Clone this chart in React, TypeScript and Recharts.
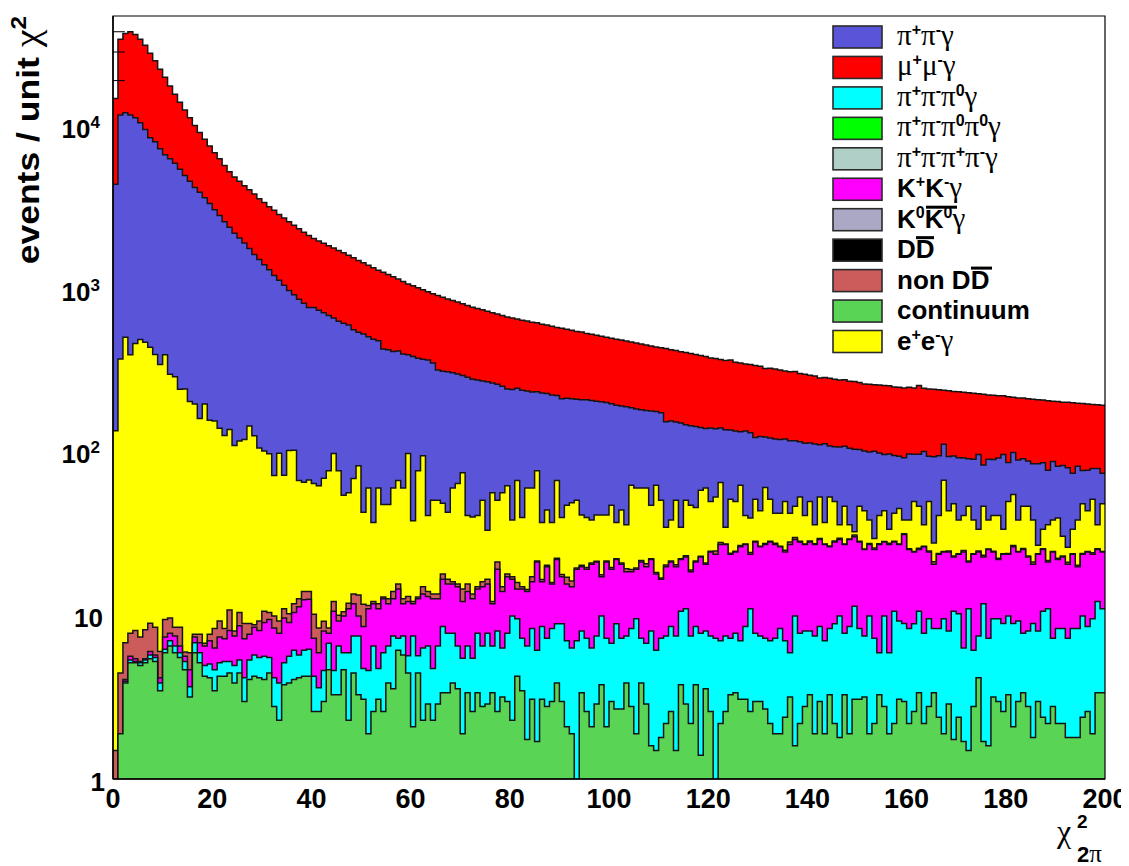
import React from 'react';
import { ComposedChart, Area, XAxis, YAxis, ReferenceArea, ReferenceLine, Legend } from 'recharts';

// ---- categories: lower edges of the 1-unit chi2 bins ----
const binLowEdges: number[] = Array.from({ length: 200 }, (_, i) => i);
const xTicks = [0, 20, 40, 60, 80, 100, 120, 140, 160, 180, 200];
const yTicks = [1, 10, 100, 1000, 10000];
const yMinorTicks = [20000, 30000, 40000];

// ---- series (events per bin), stacked bottom -> top ----
const continuum = [
  0, 1.9, 3.9, 5.2, 5.2, 5.0, 5.2, 5.5, 5.3, 3.5,
  6.0, 6.6, 6.0, 5.6, 4.7, 3.2, 6.0, 5.2, 4.3, 4.2,
  3.5, 4.3, 4.3, 4.5, 3.9, 4.5, 3.0, 4.1, 4.3, 4.2,
  4.1, 4.5, 2.8, 2.3, 3.8, 3.9, 4.1, 4.2, 4.3, 4.3,
  2.6, 2.6, 3.0, 4.7, 3.3, 3.3, 4.7, 2.3, 4.5, 3.3,
  3.1, 1.9, 2.6, 3.1, 2.6, 3.9, 3.6, 6.2, 5.8, 4.5,
  2.1, 4.5, 2.3, 2.9, 2.3, 2.9, 3.4, 3.4, 3.9, 3.6,
  1.9, 3.4, 2.6, 3.4, 2.8, 2.9, 3.4, 2.6, 3.2, 3.0,
  2.3, 4.3, 3.5, 1.75, 3.1, 1.7, 3.1, 2.8, 3.0, 3.9,
  3.0, 2.1, 1.9, 0, 3.4, 2.6, 2.1, 2.9, 3.8, 2.1,
  3.0, 2.7, 2.7, 3.9, 2.8, 1.9, 3.9, 2.9, 1.6, 1.5,
  1.8, 2.2, 2.6, 1.5, 3.8, 2.9, 2.2, 3.8, 1.4, 3.6,
  2.6, 0, 2.2, 2.6, 3.3, 3.4, 3.1, 3.1, 2.6, 3.0,
  3.0, 2.7, 2.2, 1.9, 1.9, 2.4, 3.2, 1.6, 2.2, 2.8,
  3.3, 1.9, 3.0, 1.9, 3.3, 2.2, 1.8, 3.3, 1.9, 3.1,
  3.1, 3.2, 1.9, 2.2, 3.3, 2.8, 1.9, 2.2, 3.1, 3.0,
  2.2, 2.6, 3.4, 2.2, 2.8, 3.4, 2.4, 1.9, 2.9, 1.75,
  2.4, 1.7, 1.5, 2.8, 4.2, 1.7, 1.6, 3.2, 3.0, 2.6,
  3.3, 2.1, 3.0, 3.4, 2.8, 1.8, 3.0, 2.4, 2.2, 2.8,
  2.2, 2.2, 1.8, 1.8, 1.8, 2.4, 2.6, 1.9, 3.4, 3.4,
];

const pipiPi0Gamma = [
  0, 0, 0.1, 0.2, 0.1, 0.2, 0.2, 0.3, 0.3, 0.4,
  0.3, 0.5, 0.6, 0.4, 0.6, 0.5, 0.9, 0.8, 0.7, 0.9,
  1.2, 0.9, 1.0, 0.8, 1.1, 0.9, 1.2, 1.3, 1.5, 1.4,
  1.6, 1.1, 1.4, 1.6, 1.4, 1.8, 2.1, 1.6, 1.9, 2.0,
  1.7, 1.05, 1.65, 2.15, 1.35, 3.3, 1.3, 3.7, 3.1, 4.3,
  1.7, 2.75, 4.0, 1.7, 3.4, 2.7, 4.0, 1.15, 1.8, 1.25,
  5.5, 1.25, 4.1, 3.7, 2.5, 3.7, 5.3, 4.5, 4.0, 3.0,
  3.65, 3.2, 2.95, 4.5, 3.8, 5.0, 3.2, 5.55, 3.2, 4.9,
  7.8, 5.4, 3.85, 4.85, 5.35, 4.5, 5.6, 4.55, 5.45, 5.15,
  6.05, 5.0, 4.5, 7.1, 4.75, 4.75, 4.3, 4.7, 6.3, 5.25,
  3.85, 6.35, 4.65, 3.7, 5.65, 7.8, 3.45, 3.95, 6.55, 4.7,
  5.55, 5.4, 6.1, 6.1, 7.0, 8.3, 5.4, 4.9, 6.5, 4.55,
  5.0, 7.35, 4.9, 5.0, 4.05, 4.5, 4.0, 5.6, 8.6, 4.9,
  4.6, 4.65, 4.9, 5.45, 6.55, 4.7, 2.8, 8.5, 5.7, 5.35,
  4.85, 5.7, 5.7, 5.2, 5.15, 6.85, 8.3, 4.6, 6.8, 8.5,
  5.35, 4.4, 8.2, 5.15, 2.7, 7.3, 4.1, 8.6, 6.3, 6.06,
  6.25, 6.45, 7.4, 5.7, 6.9, 5.05, 6.05, 7.8, 5.25, 9.05,
  8.0, 4.7, 9.7, 3.4, 3.4, 10.3, 5.75, 6.5, 6.7, 6.46,
  6.8, 6.96, 6.4, 4.5, 5.35, 7.26, 5.15, 8.4, 9.0, 4.55,
  6.25, 6.25, 5.55, 6.65, 6.65, 7.7, 6.1, 7.8, 9.0, 7.8,
];

const kkGamma = [
  0, 0, 0.1, 0.3, 0.2, 0.1, 0.1, 0.3, 0.2, 0.3,
  1.2, 0.8, 1.0, 0.6, 0.4, 1.0, 0.6, 0.9, 1.6, 2.0,
  1.7, 2.3, 2.0, 2.9, 2.6, 3.4, 3.1, 2.4, 2.8, 2.6,
  3.5, 4.0, 4.3, 4.0, 4.6, 3.5, 4.4, 5.7, 6.5, 6.5,
  3.05, 2.35, 3.5, 1.05, 6.15, 2.8, 4.1, 5.2, 4.4, 2.5,
  3.9, 6.55, 5.4, 6.4, 6.9, 5.4, 5.3, 7.45, 4.4, 6.65,
  4.4, 7.15, 7.4, 6.7, 8.1, 6.3, 8.3, 8.0, 8.0, 8.7,
  6.85, 7.7, 7.35, 6.9, 8.7, 8.0, 5.4, 11.45, 7.9, 9.7,
  6.9, 5.1, 7.45, 7.7, 7.95, 15.5, 7.7, 12.95, 7.45, 13.4,
  8.55, 8.8, 8.9, 12.5, 12.15, 12.25, 14.6, 14.1, 7.5, 14.35,
  12.75, 13.45, 13.65, 11.3, 10.45, 9.9, 14.35, 13.45, 14.35, 12.1,
  9.65, 12.7, 13.0, 12.7, 11.7, 12.1, 11.3, 13.0, 15.4, 12.85,
  17.4, 16.85, 20.7, 20.2, 16.85, 17.1, 19.8, 19.1, 13.0, 20.9,
  19.3, 20.45, 21.7, 20.45, 18.45, 17.9, 21.8, 19.7, 20.9, 19.65,
  20.65, 20.2, 21.1, 20.7, 18.45, 19.74, 19.7, 19.9, 21.1, 19.4,
  20.35, 18.3, 17.7, 18.55, 21.8, 18.7, 21.8, 18.0, 18.4, 22.94,
  17.45, 15.94, 15.1, 19.0, 15.3, 12.55, 15.75, 15.3, 16.85, 12.5,
  13.8, 18.6, 10.5, 18.0, 17.4, 11.3, 18.55, 15.3, 12.8, 15.14,
  14.1, 17.84, 15.6, 18.0, 15.15, 11.94, 16.05, 15.1, 10.5, 17.65,
  14.05, 14.85, 13.65, 15.75, 11.85, 14.1, 16.3, 14.5, 13.5, 13.8,
];

const nonDDbar = [
  1.5, 2.6, 2.8, 2.2, 2.7, 2.2, 2.8, 3.0, 2.8, 1.9,
  2.1, 1.9, 1.0, 2.0, 0.35, 1.3, 0.3, 0.9, 0.25, 0.7,
  2.05, 1.9, 1.15, 2.8, 0.55, 1.8, 1.76, 1.26, 0.3, 1.2,
  1.6, 1.0, 1.6, 1.5, 1.4, 1.2, 1.4, 1.4, 1.6, 1.5,
  3.0, 2.5, 1.2, 0.6, 1.6, 0.8, 0.6, 0.9, 1.8, 3.5,
  3.2, 0.5, 0.4, 0.8, 0.3, 0.9, 1.4, 1.1, 0.9, 0.9,
  0.4, 0.3, 1.5, 1.0, 0.9, 0.9, 1.3, 1.1, 0.5, 0.6,
  2.4, 1.6, 0.9, 0.5, 1.1, 1.1, 0.4, 2.1, 1.0, 0.7,
  0.6, 1.4, 0.5, 0.4, 1.2, 0.3, 0.5, 0.4, 0.3, 0.4,
  0.6, 1.6, 1.3, 0.3, 0.4, 0.5, 0.4, 0.2, 0.5, 0.3,
  0.5, 0.2, 0.4, 0.8, 0.6, 0.3, 0.5, 0.9, 0.2, 0.4,
  0.3, 0.5, 0.3, 0.6, 0.2, 0.4, 0.5, 0.3, 0.2, 0.4,
  0.3, 1.2, 0.8, 0.2, 0.4, 0.3, 0.5, 0.2, 0.6, 0.3,
  0.2, 0.4, 0.3, 0.5, 0.2, 0.6, 1.0, 0.9, 0.3, 0.2,
  0.4, 0.3, 0.5, 0.2, 0.3, 0.4, 0.6, 0.2, 0.3, 0.8,
  0.3, 0.2, 0.4, 0.6, 0.3, 0.2, 0.5, 0.3, 0.2, 0.4,
  0.3, 0.2, 0.5, 0.2, 0.4, 0.8, 0.3, 0.2, 0.4, 0.3,
  0.2, 0.5, 0.3, 0.2, 0.4, 0.6, 0.2, 0.3, 0.4, 0.2,
  0.3, 0.5, 0.2, 0.4, 0.3, 0.7, 0.2, 0.3, 0.5, 0.2,
  0.4, 0.3, 0.6, 0.2, 0.4, 0.3, 0.2, 0.5, 0.3, 0.2,
];

const eeGamma = [
  138, 381, 518, 402, 472, 501, 481, 447, 403, 351,
  401, 301, 291, 243, 246, 205, 196, 158, 197, 154,
  152, 135, 122, 131, 105, 110, 114, 140, 121, 100,
  94, 90, 64, 92, 63, 95, 94, 56, 53, 55,
  55.7, 55.5, 61.7, 70.5, 88.6, 68.8, 45.3, 45.9, 57.2, 71.4,
  32.1, 50.3, 25.6, 50, 35.8, 36.1, 47.7, 53.1, 49.1, 87.7,
  26.6, 65.8, 82.7, 27.7, 38.2, 38.2, 31.7, 27, 45.6, 50.1,
  62.2, 26.1, 27.2, 26.7, 35.6, 17, 45.6, 30.3, 42.7, 45.7,
  21.8, 52.8, 25.5, 47.3, 44.4, 57, 21.1, 24.7, 21.8, 46.1,
  22.6, 31.1, 33.7, 32.1, 21.6, 20.7, 18, 20.4, 24.2, 20.3,
  28.5, 15.3, 24, 17.1, 44.9, 42.1, 39.8, 40.8, 25.9, 45.7,
  34.7, 14.7, 17.4, 31.1, 12.8, 28.3, 29.2, 25, 36.5, 40.6,
  25.8, 29.1, 38.3, 7.5, 28.2, 25.8, 37.1, 13.9, 15.7, 23.7,
  17.7, 34.3, 23.7, 15, 16.2, 25.5, 14.5, 17.2, 25.4, 13.9,
  21.9, 8.7, 24.2, 10, 27.3, 21.9, 6.4, 19.9, 6.7, 1.5,
  18.8, 18.7, 11.1, 3.8, 13.8, 15.8, 6.2, 14.2, 18.3, 6.9,
  13.1, 25.9, 21.5, 9.7, 25.7, 6.6, 17.4, 44, 19.4, 25.9,
  14.9, 16.4, 25.9, 14.9, 9.1, 24, 13.2, 16.6, 19, 10.1,
  26.6, 29.1, 14.1, 21.6, 24.3, 17.6, 3.1, 8.3, 14.6, 14.1,
  17.6, 7.7, 5.1, 10.1, 18.6, 25, 19.6, 28.1, 10.6, 24.3,
];

const pipiGamma = [
  4460, 11915, 12175, 11890, 11320, 10490, 9510, 8444, 7989, 7243,
  6589, 6289, 5900, 5448, 4948, 4589, 4196, 3934, 3596, 3338,
  3040, 2806, 2570, 2358, 2187, 2029, 1877, 1701, 1570, 1471,
  1365, 1269, 1186, 1079, 1026, 915, 854, 831, 783, 731,
  734, 706, 674, 636, 589, 581, 584, 567, 514, 480,
  506, 468, 472, 438, 396, 391, 368, 363, 353, 309,
  361, 311, 287, 338, 313, 278, 275, 278, 256, 246,
  228, 256, 249, 245, 231, 246, 217, 218, 204, 188,
  211, 186, 207, 183, 180, 164, 200, 191, 194, 161,
  179, 173, 169, 166, 174, 176, 175, 170, 168, 166,
  156, 162, 153, 159, 129, 128, 126, 124, 136, 119,
  128, 123, 121, 106, 120, 100, 101, 101, 86, 82,
  94, 89, 78, 106, 88, 88, 73, 97, 95, 74,
  84, 65, 73, 81, 80, 73, 78, 73, 65, 75,
  66, 79, 60, 78, 58, 60, 74, 64, 72, 74,
  59, 60, 64, 74, 60, 55, 66, 55, 51, 56,
  61, 49, 52, 67, 46, 68, 56, 46, 52, 48,
  56, 53, 46, 54, 65, 38, 54, 51, 53, 65,
  38, 46, 53, 46, 43, 48, 60, 54, 43, 51,
  44, 54, 56, 42, 45, 30, 35, 29, 45, 27,
];

const mumuGamma = [
  10900, 23700, 26300, 27700, 26700, 25000, 23000, 20600, 18100, 15900,
  14000, 11900, 10300, 9000, 8000, 7000, 6200, 5500, 4900, 4400,
  4000, 3650, 3300, 3000, 2800, 2650, 2500, 2400, 2300, 2170,
  2080, 1980, 1920, 1820, 1750, 1680, 1610, 1550, 1480, 1420,
  1330, 1290, 1245, 1205, 1170, 1140, 1100, 1055, 1035, 995,
  960, 930, 900, 860, 875, 840, 810, 768, 745, 710,
  690, 670, 645, 620, 610, 620, 600, 583, 567, 553,
  540, 527, 515, 503, 492, 480, 470, 460, 453, 448,
  440, 425, 420, 417, 408, 402, 394, 389, 383, 373,
  378, 366, 361, 352, 349, 338, 334, 328, 322, 317,
  313, 310, 307, 302, 297, 295, 290, 284, 280, 275,
  272, 289, 280, 277, 273, 271, 268, 264, 260, 256,
  247, 245, 238, 237, 240, 229, 227, 221, 221, 225,
  219, 210, 213, 211, 207, 201, 201, 202, 195, 194,
  189, 188, 180, 181, 181, 179, 176, 176, 173, 173,
  170, 166, 167, 164, 165, 165, 164, 161, 161, 161,
  158, 156, 165, 151, 155, 155, 152, 133, 149, 146,
  147, 146, 145, 144, 136, 148, 138, 138, 134, 130,
  137, 122, 130, 128, 129, 131, 129, 127, 134, 122,
  127, 124, 126, 131, 122, 126, 124, 121, 120, 124,
];

// ---- styles ----
const SANS = "'Liberation Sans', Arial, Helvetica, sans-serif";
const SERIF = "'Liberation Serif', 'Times New Roman', serif";
const OUTLINE = '#141414';

const stackOrder = [
  { key: 'sCont', values: continuum, color: '#59d454' },
  { key: 'sPi3', values: pipiPi0Gamma, color: '#00ffff' },
  { key: 'sKK', values: kkGamma, color: '#ff00ff' },
  { key: 'sNonDD', values: nonDDbar, color: '#cc5c5c' },
  { key: 'sEE', values: eeGamma, color: '#ffff00' },
  { key: 'sPiPi', values: pipiGamma, color: '#5954d8' },
  { key: 'sMuMu', values: mumuGamma, color: '#ff0000' },
];

// cumulative (stacked) table; values below the log axis floor are pushed under the frame
const LOG_FLOOR = 0.3;
const table: Record<string, number>[] = binLowEdges.map((x, i) => {
  const row: Record<string, number> = { x };
  let acc = 0;
  stackOrder.forEach((s) => {
    acc += s.values[i];
    row[s.key] = Math.max(acc, LOG_FLOOR);
  });
  return row;
});
// upper edge of the last bin (x = 200) so the step outline closes the final bin
table.push({ ...table[table.length - 1], x: 200 });

const legendItems = [
  { color: '#5954d8', label: 'pipig' },
  { color: '#ff0000', label: 'mumug' },
  { color: '#00ffff', label: 'pipipi0g' },
  { color: '#00ff00', label: 'pipipi0pi0g' },
  { color: '#b0cfc6', label: 'pipipipig' },
  { color: '#ff00ff', label: 'kkg' },
  { color: '#aba8c6', label: 'k0k0g' },
  { color: '#000000', label: 'dd' },
  { color: '#cc5c5c', label: 'nondd' },
  { color: '#59d454', label: 'cont' },
  { color: '#ffff00', label: 'eeg' },
];

type Seg = { t: string; kind: 'g' | 's' | 'sup' };
const legendText: Record<string, Seg[]> = {
  pipig: [{ t: 'π', kind: 'g' }, { t: '+', kind: 'sup' }, { t: 'π', kind: 'g' }, { t: '-', kind: 'sup' }, { t: 'γ', kind: 'g' }],
  mumug: [{ t: 'μ', kind: 'g' }, { t: '+', kind: 'sup' }, { t: 'μ', kind: 'g' }, { t: '-', kind: 'sup' }, { t: 'γ', kind: 'g' }],
  pipipi0g: [{ t: 'π', kind: 'g' }, { t: '+', kind: 'sup' }, { t: 'π', kind: 'g' }, { t: '-', kind: 'sup' }, { t: 'π', kind: 'g' }, { t: '0', kind: 'sup' }, { t: 'γ', kind: 'g' }],
  pipipi0pi0g: [{ t: 'π', kind: 'g' }, { t: '+', kind: 'sup' }, { t: 'π', kind: 'g' }, { t: '-', kind: 'sup' }, { t: 'π', kind: 'g' }, { t: '0', kind: 'sup' }, { t: 'π', kind: 'g' }, { t: '0', kind: 'sup' }, { t: 'γ', kind: 'g' }],
  pipipipig: [{ t: 'π', kind: 'g' }, { t: '+', kind: 'sup' }, { t: 'π', kind: 'g' }, { t: '-', kind: 'sup' }, { t: 'π', kind: 'g' }, { t: '+', kind: 'sup' }, { t: 'π', kind: 'g' }, { t: '-', kind: 'sup' }, { t: 'γ', kind: 'g' }],
  kkg: [{ t: 'K', kind: 's' }, { t: '+', kind: 'sup' }, { t: 'K', kind: 's' }, { t: '-', kind: 'sup' }, { t: 'γ', kind: 'g' }],
  k0k0g: [{ t: 'K', kind: 's' }, { t: '0', kind: 'sup' }, { t: 'K', kind: 's' }, { t: '0', kind: 'sup' }, { t: 'γ', kind: 'g' }],
  dd: [{ t: 'DD', kind: 's' }],
  nondd: [{ t: 'non DD', kind: 's' }],
  cont: [{ t: 'continuum', kind: 's' }],
  eeg: [{ t: 'e', kind: 's' }, { t: '+', kind: 'sup' }, { t: 'e', kind: 's' }, { t: '-', kind: 'sup' }, { t: 'γ', kind: 'g' }],
};
// bars over the anti-particle symbols (legend-local pixel positions)
const legendBars: Record<string, [number, number]> = { k0k0g: [96, 127], dd: [86, 104], nondd: [141, 162] };

const PITCH = 30.45;
const LegendContent = () => (
  <svg width={290} height={345} style={{ display: 'block', overflow: 'visible' }}>
    {legendItems.map((it, i) => {
      const top = 6 + PITCH * i;
      const base = top + 19;
      const segs = legendText[it.label];
      const bar = legendBars[it.label];
      return (
        <g key={it.label}>
          <rect x={3} y={top} width={49} height={22} fill={it.color} stroke="#2a2a2a" strokeWidth={1.6} />
          <text x={67} y={base} fill="#000">
            {segs.map((s, j) => {
              if (s.kind === 'sup') {
                return (
                  <tspan key={j} y={base - 10} fontFamily={SANS} fontWeight="bold" fontSize={16}>
                    {s.t}
                  </tspan>
                );
              }
              if (s.kind === 'g') {
                return (
                  <tspan key={j} y={base} fontFamily={SERIF} fontSize={29}>
                    {s.t}
                  </tspan>
                );
              }
              return (
                <tspan key={j} y={base} fontFamily={SANS} fontWeight="bold" fontSize={26}>
                  {s.t}
                </tspan>
              );
            })}
          </text>
          {bar ? <rect x={bar[0]} y={top - 3} width={bar[1] - bar[0]} height={3} fill="#000" /> : null}
        </g>
      );
    })}
  </svg>
);

const XTick = (props: any) => {
  const { x, y, payload } = props;
  return (
    <text x={x} y={y + 29} textAnchor="middle" fontFamily={SANS} fontWeight="bold" fontSize={27} fill="#000">
      {payload.value}
    </text>
  );
};

const YTick = (props: any) => {
  const { x, y, payload } = props;
  const exp = Math.round(Math.log10(payload.value));
  if (exp === 0) {
    return (
      <text x={x - 8} y={y + 12} textAnchor="end" fontFamily={SANS} fontWeight="bold" fontSize={26} fill="#000">
        1
      </text>
    );
  }
  if (exp === 1) {
    return (
      <text x={x - 10} y={y + 10} textAnchor="end" fontFamily={SANS} fontWeight="bold" fontSize={26} fill="#000">
        10
      </text>
    );
  }
  return (
    <text x={x - 13} y={y + 9} textAnchor="end" fontFamily={SANS} fontWeight="bold" fill="#000">
      <tspan fontSize={26}>10</tspan>
      <tspan fontSize={17} dy={-10}>{exp}</tspan>
    </text>
  );
};

const YTitle = () => (
  <text transform="translate(31, 8) rotate(-90) scale(1.11, 1)" textAnchor="end" fill="#000">
    <tspan fontFamily={SANS} fontWeight="bold" fontSize={32}>events / unit </tspan>
    <tspan fontFamily={SERIF} fontSize={36}>χ</tspan>
    <tspan fontFamily={SANS} fontWeight="bold" fontSize={22} dy={-13}>2</tspan>
  </text>
);

const XTitle = () => (
  <text fill="#000">
    <tspan x={1049} y={834} fontFamily={SERIF} fontSize={32}>χ</tspan>
    <tspan x={1069} y={820} fontFamily={SANS} fontWeight="bold" fontSize={19}>2</tspan>
    <tspan x={1069} y={854} fontFamily={SANS} fontWeight="bold" fontSize={22}>2</tspan>
    <tspan fontFamily={SERIF} fontSize={25}>π</tspan>
  </text>
);

export default function App() {
  const areasTopDown = [...stackOrder].reverse();
  return (
    <div style={{ width: 1121, height: 858 }}>
      <style>{'html,body{overflow:hidden}'}</style>
      <ComposedChart
        width={1121}
        height={858}
        data={table}
        margin={{ top: 8, right: 24, left: 0, bottom: 47 }}
      >
        <XAxis
          dataKey="x"
          type="number"
          domain={[0, 200]}
          ticks={xTicks}
          allowDataOverflow
          interval={0}
          tickLine={false}
          tickSize={0}
          tickMargin={0}
          axisLine={{ stroke: '#000', strokeWidth: 1.5 }}
          height={40}
          tick={<XTick />}
          label={<XTitle />}
        />
        <YAxis
          type="number"
          scale="log"
          domain={[1, 50000]}
          ticks={yTicks}
          allowDataOverflow
          interval={0}
          tickLine={false}
          tickSize={0}
          tickMargin={0}
          axisLine={{ stroke: '#000', strokeWidth: 1.5 }}
          width={105}
          tick={<YTick />}
          label={<YTitle />}
        />
        {areasTopDown.map((s) => (
          <Area
            key={s.key}
            type="stepAfter"
            dataKey={s.key}
            baseValue={1}
            stroke={OUTLINE}
            strokeWidth={1.5}
            fill={s.color}
            fillOpacity={1}
            dot={false}
            activeDot={false}
            isAnimationActive={false}
          />
        ))}
        {yMinorTicks.map((v) => (
          <ReferenceLine
            key={v}
            segment={[{ x: 0, y: v }, { x: 2.4, y: v }]}
            stroke="#000"
            strokeWidth={1}
          />
        ))}
        <ReferenceArea x1={0} x2={200} y1={1} y2={50000} fill="none" stroke="#000" strokeWidth={1.2} />
        <Legend
          layout="vertical"
          align="center"
          verticalAlign="middle"
          content={<LegendContent />}
          wrapperStyle={{ position: 'absolute', left: 822, top: 12, width: 290, height: 345 }}
        />
      </ComposedChart>
    </div>
  );
}
